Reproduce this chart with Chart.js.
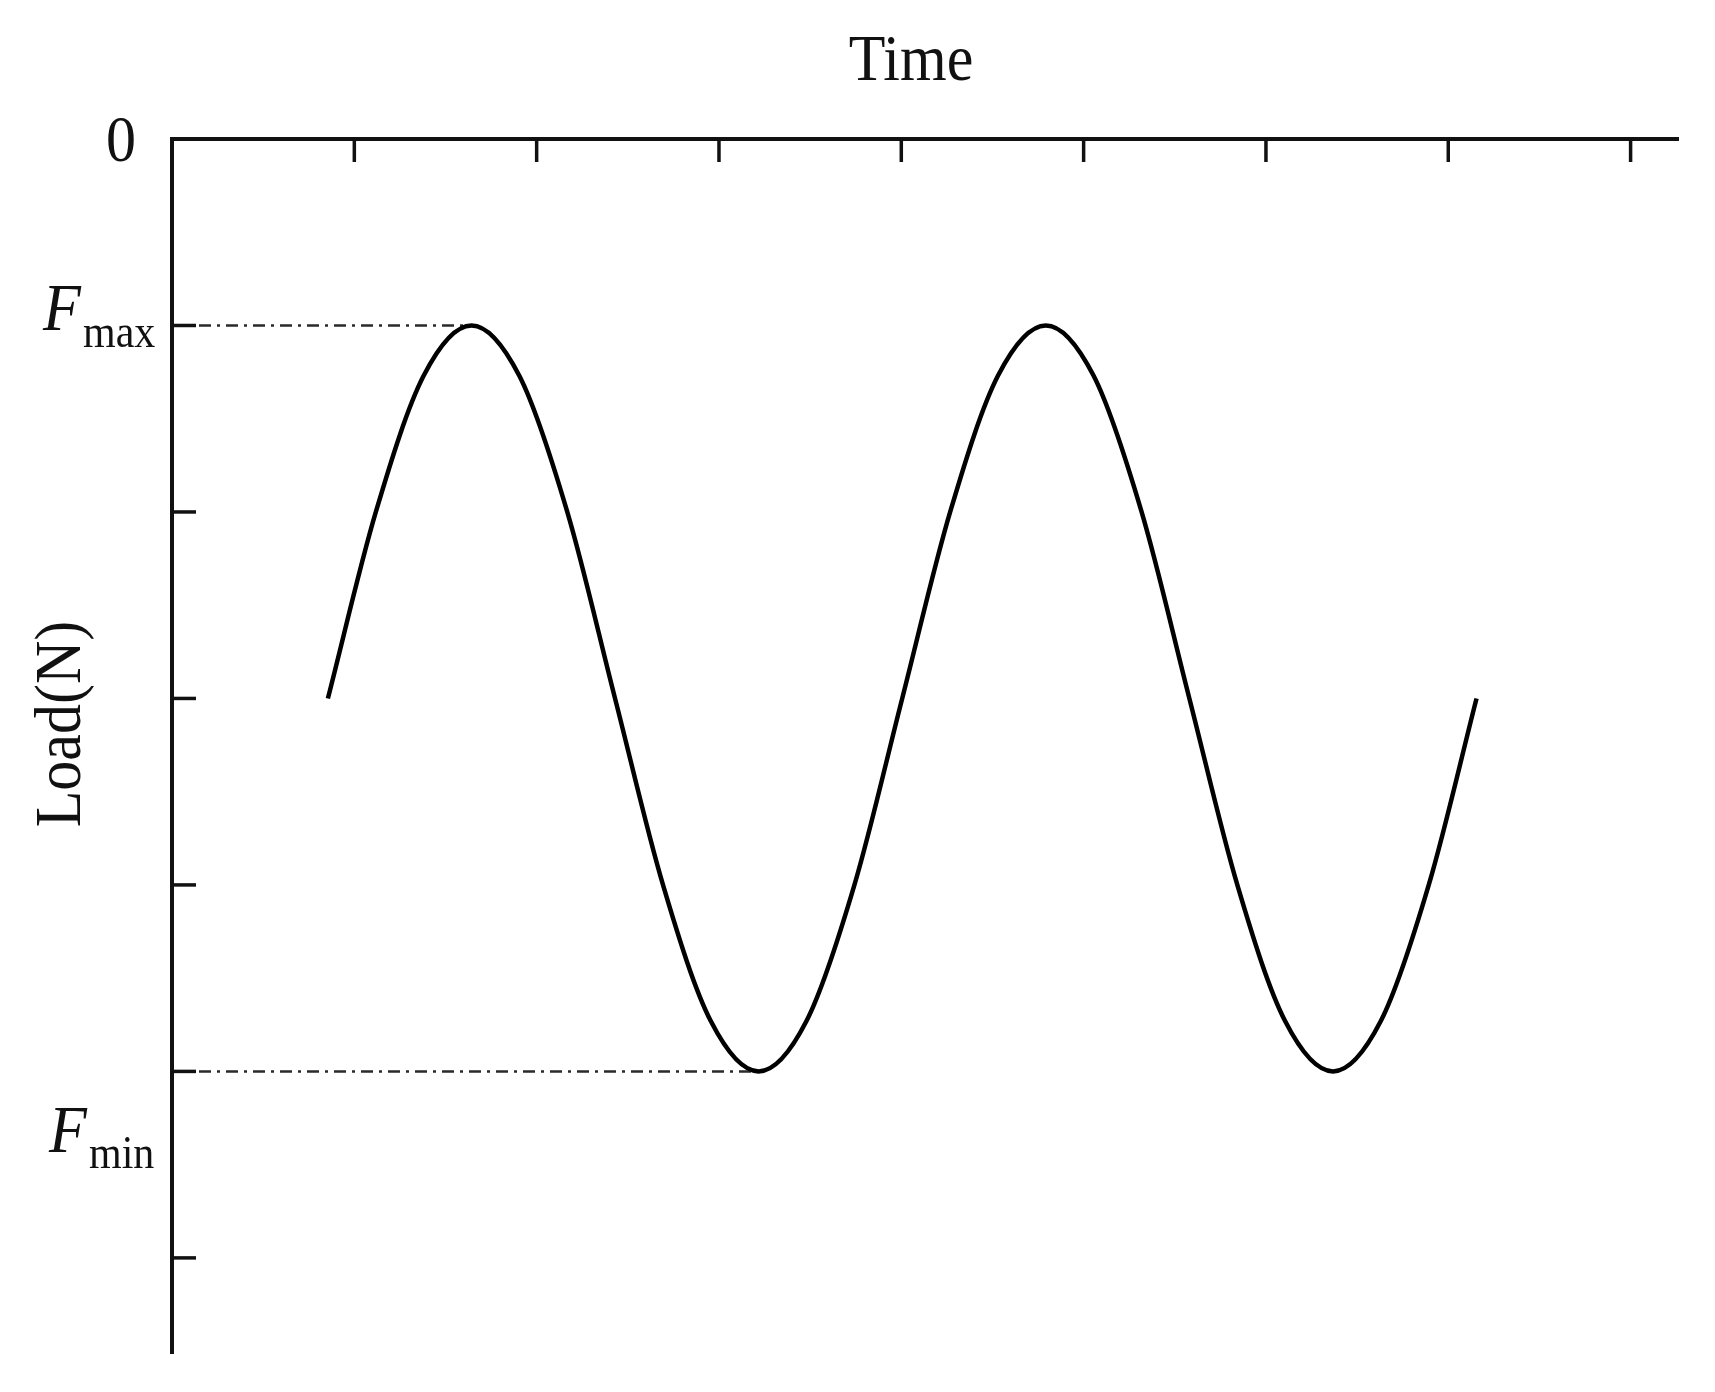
<!DOCTYPE html>
<html>
<head>
<meta charset="utf-8">
<script src="https://cdn.jsdelivr.net/npm/chart.js@4.4.1/dist/chart.umd.min.js"></script>
<style>
  html, body { margin: 0; padding: 0; background: #fff; }
  #wrap { width: 1715px; height: 1392px; }
</style>
</head>
<body>
<div id="wrap"><canvas id="myChart" width="1715" height="1392"></canvas></div>
<script>
// load curve (x in tick units of the time axis, y in tick units, 0 at top)
const timeVals = [0.855, 1.118, 1.38, 1.643, 1.905, 2.168, 2.43, 2.693, 2.955, 3.218, 3.48, 3.743,
  4.005, 4.268, 4.53, 4.793, 5.055, 5.318, 5.58, 5.843, 6.105, 6.368, 6.63, 6.893, 7.155];
const loadVals = [-3, -2, -1.27, -1, -1.27, -2, -3, -4, -4.73, -5, -4.73, -4,
  -3, -2, -1.27, -1, -1.27, -2, -3, -4, -4.73, -5, -4.73, -4, -3];

// guide lines to Fmax / Fmin
const fmaxGuideX = [0, 1.643];
const fmaxGuideY = [-1, -1];
const fminGuideX = [0, 3.218];
const fminGuideY = [-5, -5];

// tick positions
const timeTicks = [1, 2, 3, 4, 5, 6, 7, 8];
const loadTicks = [-1, -2, -3, -4, -5, -6];

const pts = (xs, ys) => xs.map((x, i) => ({ x: x, y: ys[i] }));

const serif = "'Liberation Serif', 'DejaVu Serif', serif";

// text slightly taller than wide, like the scanned figure
function stretchText(ctx, txt, x, y) {
  ctx.save();
  ctx.translate(x, y);
  ctx.scale(1, 1.08);
  ctx.fillText(txt, 0, 0);
  ctx.restore();
}

const axisDecor = {
  id: 'axisDecor',
  afterDraw(chart) {
    const ctx = chart.ctx;
    const xs = chart.scales.x, ys = chart.scales.y;
    const top = chart.chartArea.top, left = chart.chartArea.left;
    ctx.save();
    ctx.strokeStyle = '#111';
    ctx.lineWidth = 3.5;
    // inward tick marks
    timeTicks.forEach(t => {
      const px = xs.getPixelForValue(t);
      ctx.beginPath();
      ctx.moveTo(px, top);
      ctx.lineTo(px, top + 23);
      ctx.stroke();
    });
    loadTicks.forEach(t => {
      const py = ys.getPixelForValue(t);
      ctx.beginPath();
      ctx.moveTo(left, py);
      ctx.lineTo(left + 24, py);
      ctx.stroke();
    });

    ctx.fillStyle = '#111';
    // "0"
    ctx.font = '60px ' + serif;
    ctx.textAlign = 'right';
    ctx.textBaseline = 'alphabetic';
    stretchText(ctx, '0', 136, ys.getPixelForValue(0) + 22);

    // Time
    ctx.textAlign = 'center';
    stretchText(ctx, 'Time', 911, 80);

    // F max / F min
    const drawF = (sub, fx, fBase, subBase) => {
      ctx.textAlign = 'left';
      ctx.font = 'italic 62px ' + serif;
      stretchText(ctx, 'F', fx, fBase);
      ctx.font = '42px ' + serif;
      stretchText(ctx, sub, fx + 40, subBase);
    };
    const yMax = ys.getPixelForValue(-1);
    const yMin = ys.getPixelForValue(-5);
    drawF('max', 43, yMax + 5, yMax + 22);
    drawF('min', 49, yMin + 81, yMin + 97);

    // Load(N)
    ctx.save();
    ctx.translate(80, 724);
    ctx.rotate(-Math.PI / 2);
    ctx.scale(1, 1.08);
    ctx.font = '60px ' + serif;
    ctx.textAlign = 'center';
    ctx.fillText('Load(N)', 0, 0);
    ctx.restore();

    ctx.restore();
  }
};

new Chart(document.getElementById('myChart').getContext('2d'), {
  type: 'line',
  data: {
    datasets: [
      {
        label: 'Load',
        data: pts(timeVals, loadVals),
        borderColor: '#000',
        borderWidth: 4.5,
        pointRadius: 0,
        cubicInterpolationMode: 'monotone',
        fill: false
      },
      {
        label: 'Fmax',
        data: pts(fmaxGuideX, fmaxGuideY),
        borderColor: '#2a2a2a',
        borderWidth: 2.5,
        borderDash: [12, 6, 3, 6],
        pointRadius: 0,
        fill: false
      },
      {
        label: 'Fmin',
        data: pts(fminGuideX, fminGuideY),
        borderColor: '#2a2a2a',
        borderWidth: 2.5,
        borderDash: [12, 6, 3, 6],
        pointRadius: 0,
        fill: false
      }
    ]
  },
  options: {
    responsive: false,
    animation: false,
    layout: { padding: { left: 172, top: 139, right: 37, bottom: 39 } },
    plugins: { legend: { display: false }, tooltip: { enabled: false } },
    scales: {
      x: {
        type: 'linear',
        position: 'top',
        min: 0,
        max: 8.26,
        ticks: { display: false, stepSize: 1 },
        grid: { display: false, drawTicks: false },
        border: { display: true, color: '#111', width: 4 },
        afterFit: s => { s.height = 0; }
      },
      y: {
        type: 'linear',
        min: -6.51,
        max: 0,
        ticks: { display: false, stepSize: 1 },
        grid: { display: false, drawTicks: false },
        border: { display: true, color: '#111', width: 4 },
        afterFit: s => { s.width = 0; }
      }
    }
  },
  plugins: [axisDecor]
});
</script>
</body>
</html>
